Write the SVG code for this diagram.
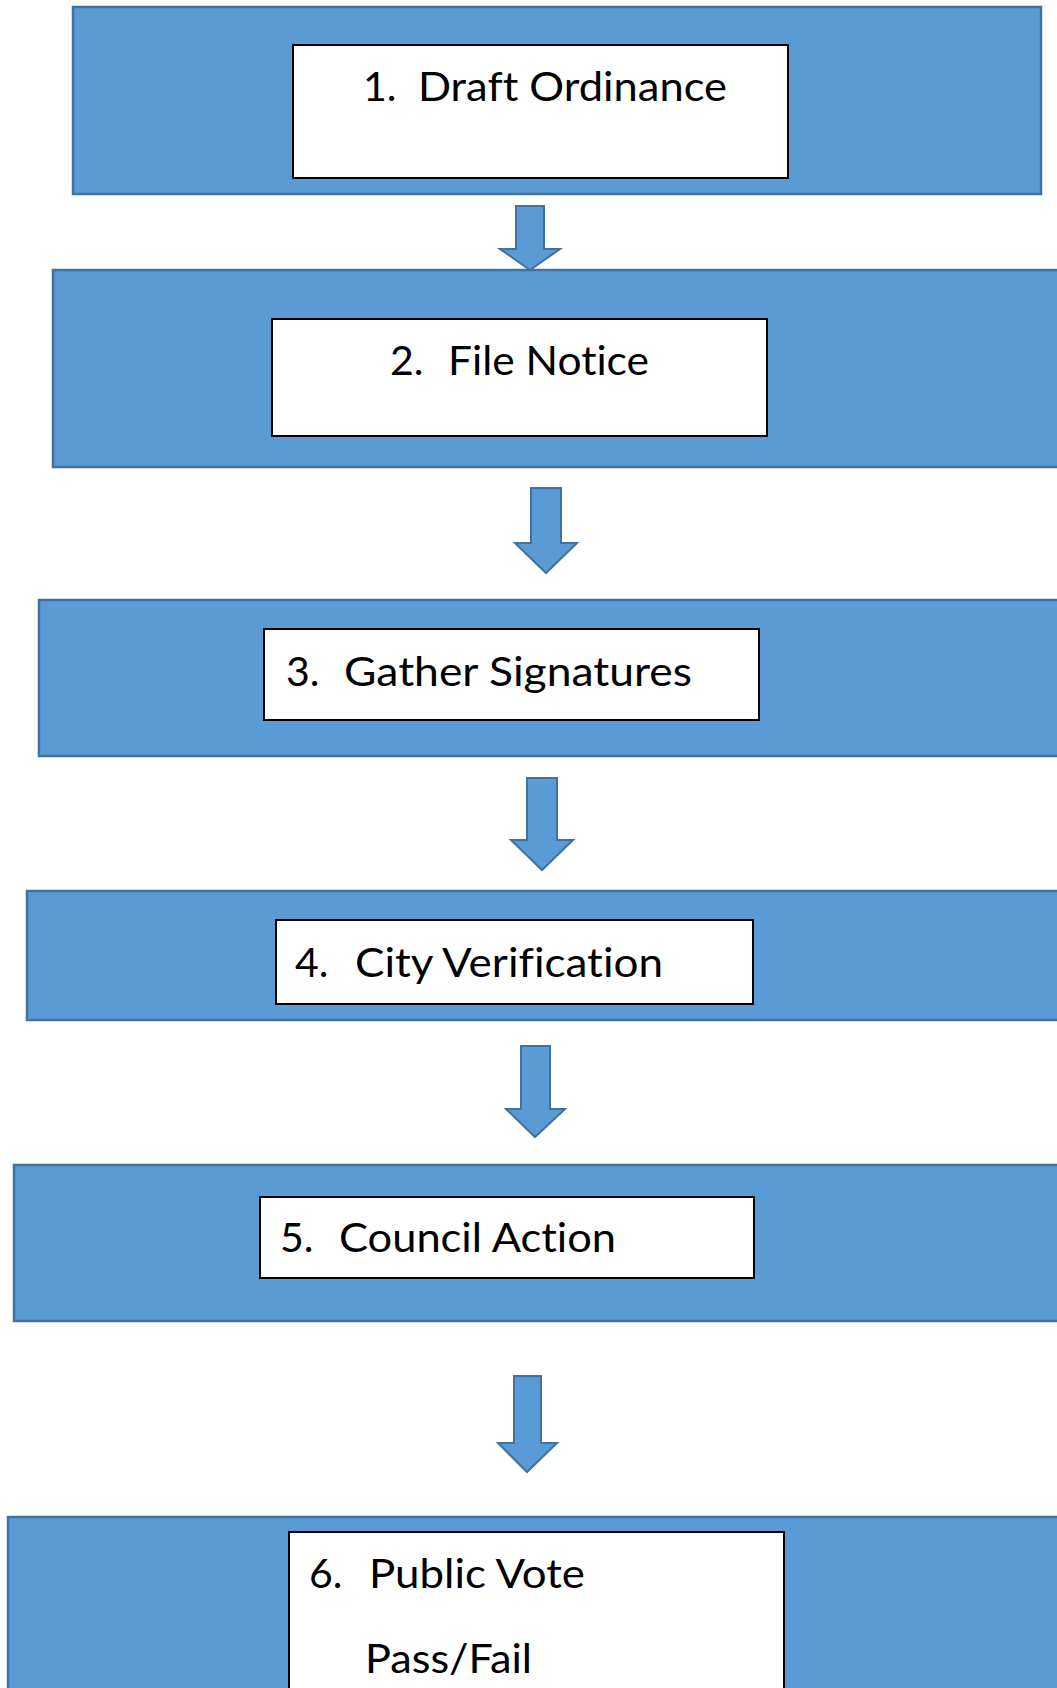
<svg xmlns="http://www.w3.org/2000/svg" width="1057" height="1688" viewBox="0 0 1057 1688">
<style>
.outer{fill:#5B9BD5;stroke:#41719C;stroke-width:2.5}
.inner{fill:#FFFFFF;stroke:#000000;stroke-width:2}
.arrow{fill:#5B9BD5;stroke:#41719C;stroke-width:2;stroke-linejoin:miter}
text{font-family:"Lato","Open Sans","Liberation Sans",sans-serif;font-size:41px;fill:#000000;font-variant-ligatures:none;font-feature-settings:"liga" 0}
</style>
<rect x="0" y="0" width="1057" height="1688" fill="#FFFFFF"/>
<g id="node1">
<rect class="outer" x="73" y="7" width="968" height="187"/>
<rect class="inner" x="293" y="45" width="495" height="133"/>
<text x="363" y="101">1.</text>
<text x="418" y="101" textLength="309" lengthAdjust="spacingAndGlyphs">Draft Ordinance</text>
</g>
<g id="node2">
<rect class="outer" x="53" y="270" width="1010" height="197"/>
<rect class="inner" x="272" y="319" width="495" height="117"/>
<text x="390" y="375">2.</text>
<text x="448" y="375" textLength="201" lengthAdjust="spacingAndGlyphs">File Notice</text>
</g>
<g id="node3">
<rect class="outer" x="39" y="600" width="1024" height="156"/>
<rect class="inner" x="264" y="629" width="495" height="91"/>
<text x="286" y="686">3.</text>
<text x="344" y="686" textLength="348" lengthAdjust="spacingAndGlyphs">Gather Signatures</text>
</g>
<g id="node4">
<rect class="outer" x="27" y="891" width="1036" height="129"/>
<rect class="inner" x="276" y="920" width="477" height="84"/>
<text x="295" y="977">4.</text>
<text x="355" y="977" textLength="308" lengthAdjust="spacingAndGlyphs">City Verification</text>
</g>
<g id="node5">
<rect class="outer" x="14" y="1165" width="1049" height="156"/>
<rect class="inner" x="260" y="1197" width="494" height="81"/>
<text x="280" y="1252">5.</text>
<text x="339" y="1252" textLength="277" lengthAdjust="spacingAndGlyphs">Council Action</text>
</g>
<g id="node6">
<rect class="outer" x="8" y="1517" width="1055" height="180"/>
<rect class="inner" x="289" y="1532" width="495" height="160"/>
<text x="309" y="1588">6.</text>
<text x="369" y="1588" textLength="216" lengthAdjust="spacingAndGlyphs">Public Vote</text>
<text x="365" y="1673" textLength="167" lengthAdjust="spacingAndGlyphs">Pass/Fail</text>
</g>
<g id="connectors">
<polygon class="arrow" points="516,206 544,206 544,249 560,249 530,270 500,249 516,249"/>
<polygon class="arrow" points="531,488 561,488 561,543 577,543 546,573 515,543 531,543"/>
<polygon class="arrow" points="527,778 557,778 557,840 573,840 542,870 511,840 527,840"/>
<polygon class="arrow" points="521,1046 550,1046 550,1109 565,1109 535,1137 506,1109 521,1109"/>
<polygon class="arrow" points="514,1376 541,1376 541,1443 557,1443 527,1472 498,1443 514,1443"/>
</g>
</svg>
